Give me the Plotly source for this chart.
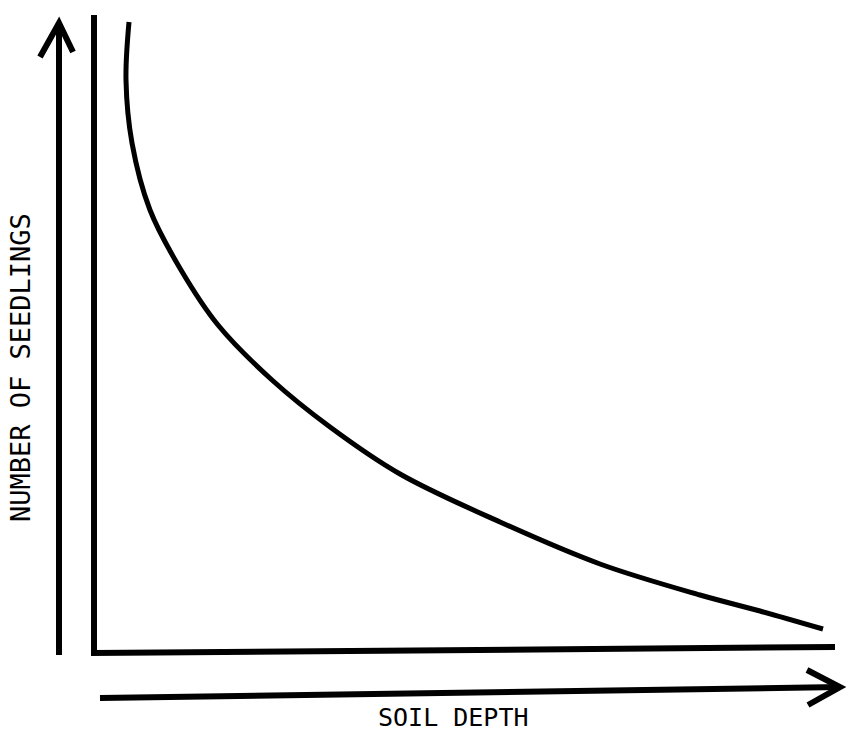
import plotly.graph_objects as go

# Curve data (arbitrary units): soil depth vs number of seedlings
soil_depth = [35, 32, 38, 56, 87, 124, 178, 236, 306, 406, 506, 606, 666, 729]
seedlings = [631, 573, 510, 443, 383, 328, 273, 226, 179, 131, 89, 58, 42, 24]

x_label = "SOIL DEPTH"
y_label = "NUMBER OF SEEDLINGS"

W, H = 851, 741
X0, Y0 = 94, 653  # pixel position of origin


def px(x, y):
    """convert pixel coords into data coords"""
    return x - X0, Y0 - y


fig = go.Figure()

fig.add_trace(go.Scatter(x=soil_depth, y=seedlings, mode="lines",
                         line=dict(color="black", width=5, shape="spline", smoothing=1.0),
                         hoverinfo="skip", showlegend=False))


def path(points):
    d = ""
    for i, (x, y) in enumerate(points):
        a, b = px(x, y)
        d += ("M" if i == 0 else " L") + f" {a},{b}"
    return d


line_style = dict(color="black", width=6)
shapes = [
    # axes
    dict(type="path", path=path([(94, 15), (94, 653), (835, 647)]), line=line_style,
         xref="x", yref="y"),
    # left arrow
    dict(type="path", path=path([(59, 655), (59, 23)]), line=line_style, xref="x", yref="y"),
    dict(type="path", path=path([(40, 57), (59, 23), (73, 52)]), line=line_style, xref="x", yref="y"),
    # bottom arrow
    dict(type="path", path=path([(100, 698), (840, 687)]), line=line_style, xref="x", yref="y"),
    dict(type="path", path=path([(807, 670), (840, 687), (808, 705)]), line=line_style, xref="x", yref="y"),
]

ax, ay = px(20, 368)
bx, by = px(453, 717)
annotations = [
    dict(x=ax, y=ay, text=y_label, textangle=-90, showarrow=False, xref="x", yref="y",
         font=dict(family="DejaVu Sans Mono", size=27, color="black")),
    dict(x=bx, y=by, text=x_label, showarrow=False, xref="x", yref="y",
         font=dict(family="DejaVu Sans Mono", size=25, color="black")),
]

fig.update_layout(
    width=W, height=H,
    margin=dict(l=0, r=0, t=0, b=0),
    paper_bgcolor="white", plot_bgcolor="white",
    xaxis=dict(range=[-X0, W - X0], visible=False, fixedrange=True),
    yaxis=dict(range=[Y0 - H, Y0], visible=False, fixedrange=True),
    shapes=shapes, annotations=annotations,
)

fig.write_html("out.html", config={"displayModeBar": False},
               post_script="document.body.style.margin='0';document.body.style.overflow='hidden';")
